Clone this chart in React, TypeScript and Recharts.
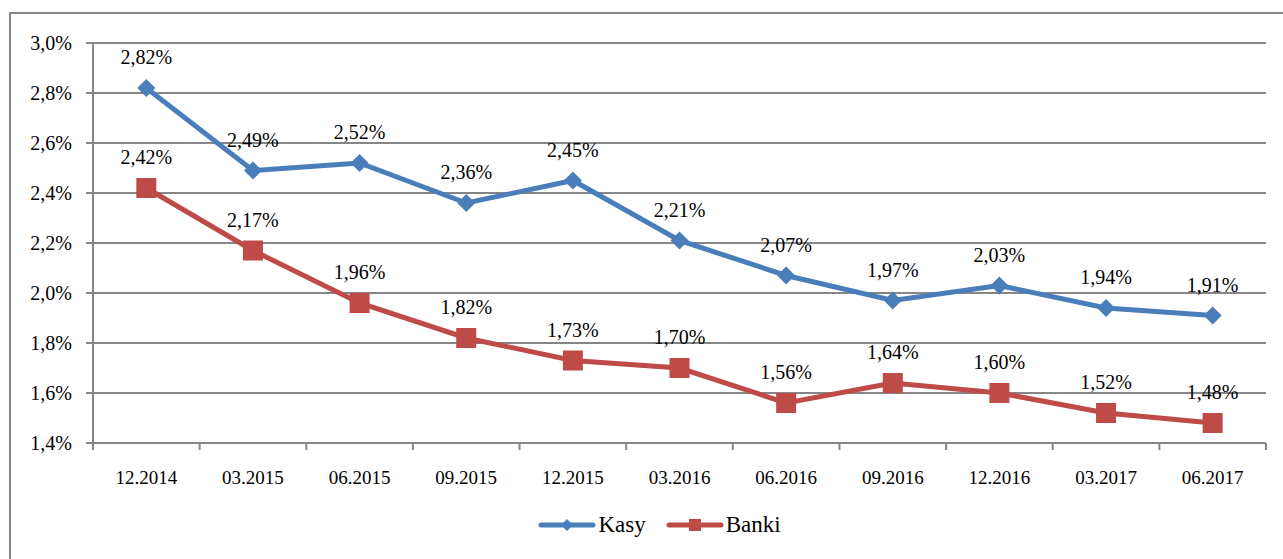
import React from 'react'
import {
  LineChart, Line, XAxis, YAxis, CartesianGrid, LabelList, Legend
} from 'recharts'

const periods = ['12.2014', '03.2015', '06.2015', '09.2015', '12.2015', '03.2016', '06.2016', '09.2016', '12.2016', '03.2017', '06.2017']
const kasy = [2.82, 2.49, 2.52, 2.36, 2.45, 2.21, 2.07, 1.97, 2.03, 1.94, 1.91]
const banki = [2.42, 2.17, 1.96, 1.82, 1.73, 1.70, 1.56, 1.64, 1.60, 1.52, 1.48]
const yTicks = [1.4, 1.6, 1.8, 2.0, 2.2, 2.4, 2.6, 2.8, 3.0]

const data = periods.map((p, i) => ({ period: p, kasy: kasy[i], banki: banki[i] }))

const BLUE = '#4a7ebb'
const RED = '#be4b48'
const GRID = '#868686'
const SERIF = "'Times New Roman', 'Liberation Serif', 'DejaVu Serif', serif"

const pct1 = (v: number) => `${v.toFixed(1).replace('.', ',')}%`
const pct2 = (v: number) => `${v.toFixed(2).replace('.', ',')}%`

const TICK = 7
const GAP = 26

function XTick(props: any) {
  const { x, y, payload, index } = props
  const off = payload.offset || 0
  const axisY = y - TICK - GAP
  return (
    <g>
      <line x1={x - off} x2={x - off} y1={axisY} y2={axisY + TICK} stroke={GRID} strokeWidth={2} />
      {index === periods.length - 1 && (
        <line x1={x + off} x2={x + off} y1={axisY} y2={axisY + TICK} stroke={GRID} strokeWidth={2} />
      )}
      <text x={x} y={y} dy={8} textAnchor="middle" style={{ fontSize: 19, fontFamily: SERIF }} fill="#000">
        {payload.value}
      </text>
    </g>
  )
}

function Diamond({ cx, cy }: any) {
  if (cx == null || cy == null) return null
  const r = 9
  return <path d={`M${cx},${cy - r}L${cx + r},${cy}L${cx},${cy + r}L${cx - r},${cy}Z`} fill={BLUE} />
}

function Square({ cx, cy }: any) {
  if (cx == null || cy == null) return null
  const s = 10
  return <rect x={cx - s} y={cy - s} width={s * 2} height={s * 2} fill={RED} />
}

function LegendBox() {
  const item = (color: string, label: string, marker: React.ReactNode) => (
    <div style={{ display: 'flex', alignItems: 'center', marginRight: 20 }}>
      <svg width={58} height={20}>
        <line x1={3} x2={55} y1={10} y2={10} stroke={color} strokeWidth={5} strokeLinecap="round" />
        {marker}
      </svg>
      <span style={{ fontFamily: SERIF, fontSize: 23, color: '#000', marginLeft: 2 }}>{label}</span>
    </div>
  )
  return (
    <div style={{ display: 'flex', justifyContent: 'center', paddingLeft: 56 }}>
      {item(BLUE, 'Kasy', <path d="M29,4L35,10L29,16L23,10Z" fill={BLUE} />)}
      {item(RED, 'Banki', <rect x={23} y={4} width={12} height={12} fill={RED} />)}
    </div>
  )
}

export default function App() {
  return (
    <div style={{ position: 'absolute', left: 0, top: 0, width: 1283, height: 559, background: '#fff', overflow: 'hidden', fontFamily: SERIF }}>
      <div style={{
        position: 'absolute', left: 9, top: 12, width: 1283, height: 560,
        borderLeft: `2px solid ${GRID}`, borderTop: `2px solid ${GRID}`
      }} />
      <div style={{ position: 'absolute', left: 0, top: 0 }}>
        <LineChart width={1283} height={559} data={data} margin={{ top: 43, right: 17, left: 0, bottom: 0 }}>
          <CartesianGrid vertical={false} stroke={GRID} strokeWidth={2} />
          <XAxis
            dataKey="period"
            scale="band"
            height={116}
            axisLine={{ stroke: GRID, strokeWidth: 2 }}
            tickLine={false}
            tickSize={TICK}
            tickMargin={GAP}
            interval={0}
            tick={<XTick />}
          />
          <YAxis
            width={93}
            domain={[1.4, 3.0]}
            ticks={yTicks}
            tickFormatter={pct1}
            axisLine={{ stroke: GRID, strokeWidth: 2 }}
            tickLine={{ stroke: GRID, strokeWidth: 2 }}
            tickSize={7}
            tickMargin={14}
            tick={{ fontSize: 20, fill: '#000', style: { fontFamily: SERIF } }}
          />
          <Legend
            layout="vertical"
            align="center"
            verticalAlign="middle"
            content={<LegendBox />}
            wrapperStyle={{ position: 'absolute', top: 512, left: 0, width: 1283 }}
          />
          <Line
            dataKey="kasy"
            name="Kasy"
            stroke={BLUE}
            strokeWidth={5}
            dot={<Diamond />}
            activeDot={false}
            isAnimationActive={false}
          >
            <LabelList dataKey="kasy" position="top" offset={24} formatter={pct2}
              style={{ fontSize: 20, fontFamily: SERIF, fill: '#000' }} />
          </Line>
          <Line
            dataKey="banki"
            name="Banki"
            stroke={RED}
            strokeWidth={5}
            dot={<Square />}
            activeDot={false}
            isAnimationActive={false}
          >
            <LabelList dataKey="banki" position="top" offset={24} formatter={pct2}
              style={{ fontSize: 20, fontFamily: SERIF, fill: '#000' }} />
          </Line>
        </LineChart>
      </div>
    </div>
  )
}
